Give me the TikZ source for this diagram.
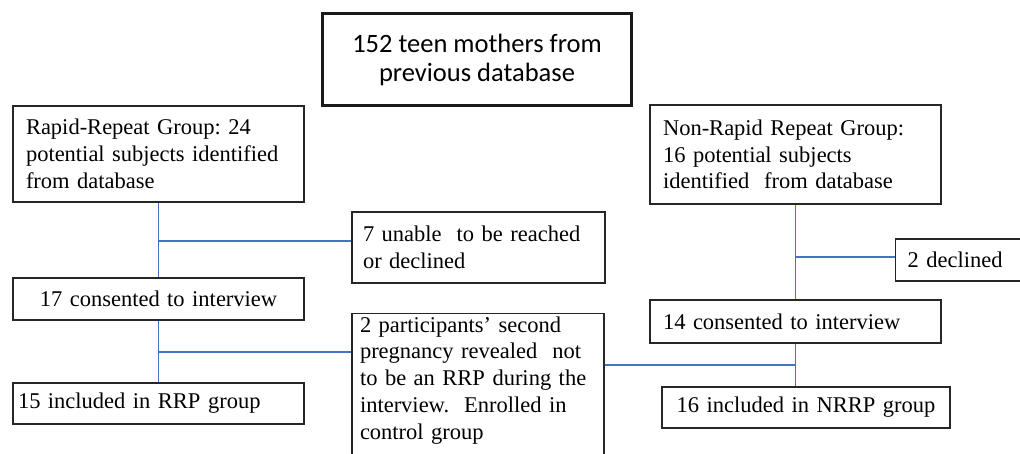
\documentclass[tikz,border=0pt]{standalone}
\usepackage{fontspec}
\setmainfont{Liberation Serif}
\newfontfamily\calibrifont{Carlito}
\definecolor{linkblue}{RGB}{68,114,196}
\frenchspacing

\begin{document}
\begin{tikzpicture}[x=1pt, y=-1pt,
  box/.style={draw=black!85, line width=1.2pt, inner xsep=13pt, inner ysep=0pt, font=\fontsize{22.5}{26.7}\selectfont},
  link/.style={draw=linkblue, line width=1.5pt}]
  \useasboundingbox (0,0) rectangle (1020,453);
  \node[draw=black!90, line width=3pt, align=center, minimum width=309pt, minimum height=92pt, font=\calibrifont\fontsize{26.5}{29}\selectfont] (db) at (477,59.5) {152 teen mothers from\\previous database};

  \node[box, align=left, text width=265pt, minimum width=291pt, minimum height=96pt] (rr) at (158.5,154) {Rapid-Repeat Group: 24\\potential subjects identified\\from database};
  \node[box, align=center, text width=265pt, minimum width=291pt, minimum height=42pt] (rr17) at (158.5,299) {17 consented to interview};
  \node[box, align=left, inner xsep=5pt, text width=281pt, minimum width=291pt, minimum height=41pt] (rr15) at (158.5,403.5) {15 included in RRP group};

  \node[box, align=left, inner xsep=11pt, text width=231pt, minimum width=253pt, minimum height=71pt] (unable) at (478.5,247.5) {7 unable\ \ to be reached\\or declined};
  \node[box, align=left, anchor=north, inner xsep=8pt, inner ysep=3pt, text width=236pt, text depth=150pt] (part) at (478,313) {2 participants’ second\\pregnancy revealed\ \ not\\to be an RRP during the\\interview.\ \ Enrolled in\\control group};

  \node[box, align=left, text width=265pt, minimum width=291pt, minimum height=99pt] (nrr) at (795.5,154.5) {Non-Rapid Repeat Group:\\16 potential subjects\\identified\ \ from database};
  \node[box, align=left, anchor=west, inner xsep=12pt, text width=106pt, minimum width=130pt, minimum height=42pt] (dec) at (895,260) {2 declined};
  \node[box, align=left, text width=265pt, minimum width=291pt, minimum height=43pt] (nrr14) at (795.5,321.5) {14 consented to interview};
  \node[box, align=center, inner xsep=8pt, text width=272pt, minimum width=288pt, minimum height=41pt] (nrr16) at (806,407.5) {16 included in NRRP group};

  \coordinate (j1) at (158.5,241);
  \coordinate (j2) at (158.5,352);
  \coordinate (j3) at (795.5,257);
  \coordinate (j4) at (795.5,365);

  \draw[link] (rr.south) -- (rr17.north);
  \draw[link] (j1) -- (j1 -| unable.west);
  \draw[link] (rr17.south) -- (rr15.north);
  \draw[link] (j2) -- (j2 -| part.west);
  \draw[link] (nrr.south) -- (nrr14.north);
  \draw[link] (j3) -- (j3 -| dec.west);
  \draw[link] (nrr14.south) -- (nrr14.south |- nrr16.north);
  \draw[link] (part.east |- j4) -- (j4);
\end{tikzpicture}
\end{document}
